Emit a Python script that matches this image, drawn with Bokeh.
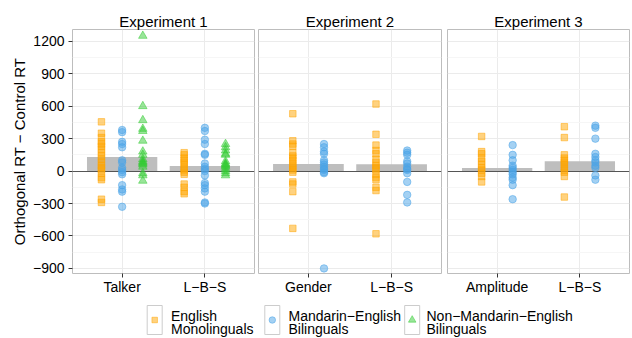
from bokeh.plotting import figure
from bokeh.layouts import row, column
from bokeh.models import Range1d, FixedTicker, ColumnDataSource
from bokeh.transform import dodge
from bokeh.core.properties import value
from bokeh.embed import file_html
from bokeh.resources import INLINE

FONT = "Liberation Sans"

# ---------------- data ----------------
experiments = ["Experiment 1", "Experiment 2", "Experiment 3"]
conditions_exp1 = ["Talker", "L\u2212B\u2212S"]
conditions_exp2 = ["Gender", "L\u2212B\u2212S"]
conditions_exp3 = ["Amplitude", "L\u2212B\u2212S"]
groups = ["English Monolinguals", "Mandarin\u2212English Bilinguals",
          "Non\u2212Mandarin\u2212English Bilinguals"]

bar_exp1 = [130, 48]
bar_exp2 = [65, 62]
bar_exp3 = [28, 92]

exp1_talker_eng = [455, 350, 310, 270, 250, 230, 200, 170, 140, 110, 80, 50, 30, 10, -20, -60, -80, -260, -290]
exp1_talker_man = [380, 360, 270, 250, 220, 100, 80, 30, 10, -10, -30, -130, -170, -190, -330]
exp1_talker_non = [1250, 600, 470, 390, 370, 280, 180, 150, 110, 90, 80, 70, 60, 40, -20, -40, -90]
exp1_lbs_eng = [170, 150, 120, 100, 80, 60, 30, 10, -10, -30, -120, -150, -190, -210]
exp1_lbs_man = [400, 370, 290, 250, 160, 150, 70, 40, 20, 0, -40, -110, -130, -160, -190, -290, -300]
exp1_lbs_non = [250, 220, 190, 160, 150, 90, 70, 60, 50, 40, 20, 0, -20, -40]

exp2_gender_eng = [530, 280, 250, 230, 170, 140, 120, 100, 70, 50, 30, 10, -10, -100, -120, -190, -530]
exp2_gender_man = [250, 220, 180, 160, 100, 80, 60, 40, 20, 10, -10, -20, -900]
exp2_lbs_eng = [620, 340, 240, 190, 160, 110, 80, 50, 30, 10, -30, -60, -80, -150, -180, -580]
exp2_lbs_man = [190, 170, 150, 90, 70, 40, 20, 10, -20, -100, -220, -290]

exp3_amp_eng = [320, 180, 160, 120, 90, 60, 30, 10, -20, -50, -100]
exp3_amp_man = [240, 150, 100, 50, 30, 10, -10, -30, -60, -80, -130, -260]
exp3_lbs_eng = [410, 310, 150, 120, 100, 80, 60, 30, 10, -10, -50, -240]
exp3_lbs_man = [420, 400, 300, 160, 130, 100, 80, 50, 30, -40, -80]

y_ticks = [-900, -600, -300, 0, 300, 600, 900, 1200]
y_minor_ticks = [-1050, -750, -450, -150, 150, 450, 750, 1050, 1350]
y_limits = (-947, 1309)
zero_line = 0

# ---------------- styles ----------------
colors = ["#FFA500", "#4AA3E8", "#33CC33"]
markers = ["square", "circle", "triangle"]
sizes = [6.5, 7.5, 8.5]
POINT_ALPHA = 0.5

panels = [
    (experiments[0], conditions_exp1, bar_exp1,
     [[exp1_talker_eng, exp1_talker_man, exp1_talker_non],
      [exp1_lbs_eng, exp1_lbs_man, exp1_lbs_non]]),
    (experiments[1], conditions_exp2, bar_exp2,
     [[exp2_gender_eng, exp2_gender_man], [exp2_lbs_eng, exp2_lbs_man]]),
    (experiments[2], conditions_exp3, bar_exp3,
     [[exp3_amp_eng, exp3_amp_man], [exp3_lbs_eng, exp3_lbs_man]]),
]

# width, min_border_left, min_border_right
geometry = [(256, 72, 2), (188, 2, 3), (187, 3, 2)]
TOP_H = 297


def make_panel(idx):
    title, conds, bars, series = panels[idx]
    w, bl, br = geometry[idx]
    show_y = idx == 0
    p = figure(width=w, height=TOP_H, x_range=Range1d(0.4, len(conds) + 0.6),
               y_range=Range1d(*y_limits), output_backend="svg", toolbar_location=None,
               min_border_left=bl, min_border_right=br, min_border_top=29,
               min_border_bottom=23, y_axis_location="left" if show_y else None)
    p.title.text = title
    p.title.align = "center"
    p.title.text_font = FONT
    p.title.text_font_size = "15px"
    p.title.text_font_style = "normal"
    p.title.text_color = "black"
    p.title.standoff = 0
    p.outline_line_color = "#bdbdbd"
    p.outline_line_width = 1
    p.background_fill_color = "white"

    positions = list(range(1, len(conds) + 1))
    xt = FixedTicker(ticks=positions)
    yt = FixedTicker(ticks=y_ticks, minor_ticks=y_minor_ticks)
    p.xaxis.ticker = xt
    p.xaxis.major_label_overrides = {pos: c for pos, c in zip(positions, conds)}
    p.xgrid.ticker = xt
    p.ygrid.ticker = yt
    p.xgrid.grid_line_color = "#ebebeb"
    p.ygrid.grid_line_color = "#ebebeb"
    p.ygrid.minor_grid_line_color = "#f6f6f6"

    axes = list(p.xaxis) + (list(p.yaxis) if show_y else [])
    for ax in axes:
        ax.axis_line_color = None
        ax.major_tick_line_color = "#333333"
        ax.major_tick_out = 4
        ax.major_tick_in = 0
        ax.minor_tick_line_color = None
        ax.major_label_text_font = FONT
        ax.major_label_text_font_size = "14px"
        ax.major_label_text_color = "black"
    p.xaxis.major_label_standoff = 1
    if show_y:
        p.yaxis.ticker = yt
        p.yaxis.major_label_overrides = {t: str(t).replace("-", "\u2212") for t in y_ticks}
        p.yaxis.major_label_standoff = 4
        p.yaxis.axis_label = "Orthogonal RT \u2212 Control RT"
        p.yaxis.axis_label_text_font = FONT
        p.yaxis.axis_label_text_font_size = "15px"
        p.yaxis.axis_label_text_font_style = "normal"
        p.yaxis.axis_label_text_color = "black"
        p.yaxis.axis_label_standoff = 2

    p.vbar(x=positions, top=bars, width=0.85, fill_color="#bebebe", line_color=None)
    p.hspan(y=[zero_line], line_color="#555555", line_width=1.2)

    n = len(series[0])
    for gi in range(n):
        xs, ys = [], []
        for ci, pos in enumerate(positions):
            vals = series[ci][gi]
            xs += [pos] * len(vals)
            ys += vals
        src = ColumnDataSource(dict(x=xs, y=ys))
        off = (gi - (n - 1) / 2) * 0.75 / n
        p.scatter(x=dodge("x", off), y="y", source=src, marker=markers[gi],
                  size=sizes[gi], fill_color=colors[gi], line_color=colors[gi],
                  fill_alpha=POINT_ALPHA, line_alpha=POINT_ALPHA)
    return p


figs = [make_panel(i) for i in range(3)]

# ---------------- legend ----------------
LEG_W, LEG_H = 631, 41
leg = figure(width=LEG_W, height=LEG_H, x_range=Range1d(0, LEG_W), y_range=Range1d(0, LEG_H),
             output_backend="svg", toolbar_location=None, min_border=0, title=None,
             x_axis_location=None, y_axis_location=None)
leg.outline_line_color = None
leg.grid.visible = False

key_x = [154.2, 271.8, 411.7]
text_x = [170.5, 288.0, 426.0]
key_y = 18.5
line1_y, line2_y = 23.0, 9.5

leg.rect(x=key_x, y=[key_y] * 3, width=15, height=29, fill_color="white",
         line_color="#cccccc", line_width=1)
for gi in range(3):
    leg.scatter(x=[key_x[gi]], y=[key_y], marker=markers[gi], size=sizes[gi] - 1,
                fill_color=colors[gi], line_color=colors[gi],
                fill_alpha=POINT_ALPHA, line_alpha=POINT_ALPHA)
first = [g.rsplit(" ", 1)[0] for g in groups]
second = [g.rsplit(" ", 1)[1] for g in groups]
leg.text(x=text_x, y=[line1_y] * 3, text=first, text_font=value(FONT), text_font_size="14px",
         text_color="black", text_baseline="alphabetic", text_align="left")
leg.text(x=text_x, y=[line2_y] * 3, text=second, text_font=value(FONT), text_font_size="14px",
         text_color="black", text_baseline="alphabetic", text_align="left")

layout = column(row(*figs), leg)
open("out.html", "w").write(file_html(layout, INLINE))
